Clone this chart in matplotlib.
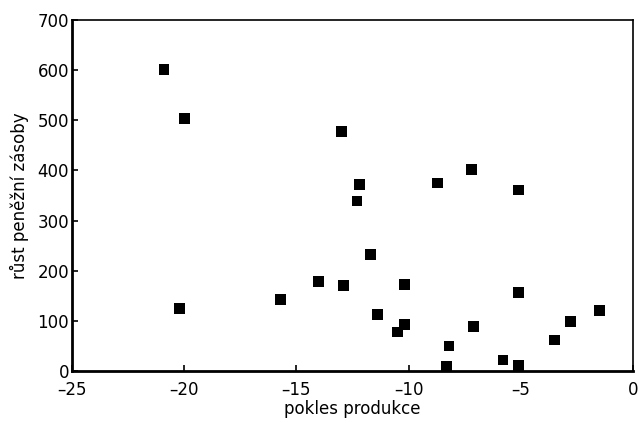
import matplotlib
matplotlib.use('Agg')
import matplotlib.pyplot as plt

# decline of production vs. growth of money supply
pokles = [-20.9, -20.0, -20.2, -15.7, -14.0, -13.0, -12.9, -12.2, -12.3, -11.7,
          -11.4, -10.2, -10.5, -10.2, -8.7, -7.2, -5.1, -8.2, -8.3, -7.1,
          -5.1, -5.8, -5.1, -3.5, -2.8, -1.5]
rust = [601, 503, 124, 143, 179, 478, 171, 372, 339, 232,
        112, 172, 78, 92, 375, 402, 361, 50, 10, 88,
        157, 22, 11, 62, 98, 121]

xticks = [-25, -20, -15, -10, -5, 0]
yticks = [0, 100, 200, 300, 400, 500, 600, 700]

plt.rcParams['font.family'] = ['DejaVu Sans']

fig = plt.figure(figsize=(6.39, 4.23), dpi=100)
ax = fig.add_axes([0.1127, 0.1229, 0.878, 0.83])

ax.scatter(pokles, rust, marker='s', s=60, c='black', edgecolors='none')

ax.set_xlim(-25, 0)
ax.set_ylim(0, 700)
ax.set_xticks(xticks)
ax.set_yticks(yticks)
ax.set_xticklabels([str(t).replace('-', '\u2013') for t in xticks], fontsize=12)
ax.set_yticklabels([str(t) for t in yticks], fontsize=12)
ax.tick_params(axis='x', direction='in', length=4, width=1.2, pad=7)
ax.tick_params(axis='y', direction='in', length=4, width=1.2, pad=2)

ax.spines['left'].set_linewidth(2)
ax.spines['bottom'].set_linewidth(2)
ax.spines['top'].set_linewidth(1.2)
ax.spines['right'].set_linewidth(1.2)

ax.set_xlabel('pokles produkce', fontsize=12, labelpad=1)
ax.set_ylabel('růst peněžní zásoby', fontsize=12, labelpad=6)

fig.savefig('out.png', dpi=100)
